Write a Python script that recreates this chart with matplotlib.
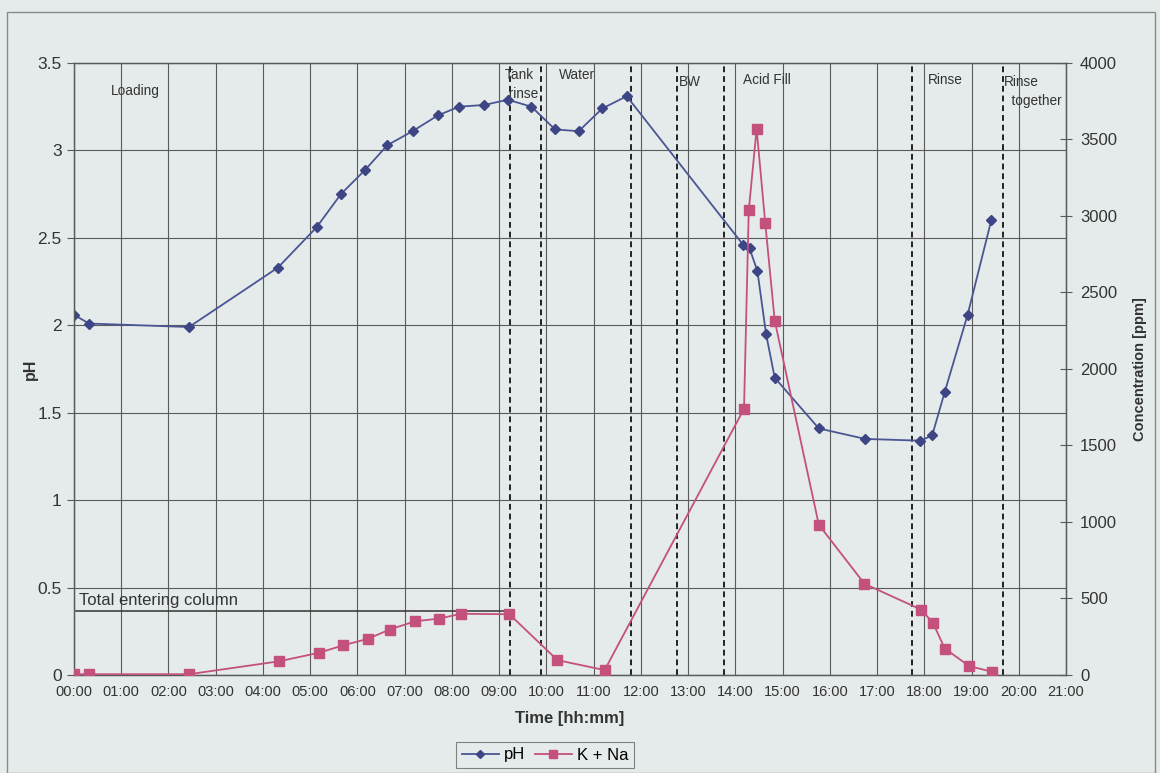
import matplotlib.pyplot as plt
from matplotlib.lines import Line2D
from matplotlib.patches import Rectangle

plt.rcParams['font.family'] = ['Liberation Sans', 'DejaVu Sans']

# sample times [hh:mm] and measured values
ph_time = ["00:00", "00:19", "02:26", "04:19", "05:08", "05:39", "06:10", "06:38",
           "07:10", "07:42", "08:09", "08:41", "09:11", "09:41", "10:11", "10:41",
           "11:11", "11:42", "14:10", "14:18", "14:28", "14:39", "14:50", "15:46",
           "16:45", "17:55", "18:10", "18:26", "18:55", "19:25"]
ph = [2.06, 2.01, 1.99, 2.33, 2.56, 2.75, 2.89, 3.03, 3.11, 3.20, 3.25, 3.26, 3.29,
      3.25, 3.12, 3.11, 3.24, 3.31, 2.46, 2.44, 2.31, 1.95, 1.70, 1.41, 1.35, 1.34,
      1.37, 1.62, 2.06, 2.60]

kna_time = ["00:00", "00:19", "02:26", "04:20", "05:11", "05:42", "06:13", "06:41",
            "07:13", "07:43", "08:12", "09:13", "10:14", "11:14", "14:11", "14:17",
            "14:27", "14:38", "14:50", "15:46", "16:44", "17:56", "18:11", "18:26",
            "18:57", "19:26"]
kna = [5, 5, 5, 89, 145, 194, 236, 297, 351, 368, 400, 397, 97, 32, 1740, 3036,
       3570, 2951, 2316, 982, 596, 427, 340, 173, 58, 21]

# step boundaries and step names
step_bounds = ["09:14", "09:53", "11:47", "12:46", "13:45", "17:44", "19:40"]
step_names = ["Loading", "Tank\n rinse", "Water", "BW", "Acid Fill", "Rinse", "Rinse\n  together"]

total_entering = 415  # ppm
total_from, total_to = "00:03", "09:06"


def hours(t):
    h, m = t.split(":")
    return int(h) + int(m) / 60


bg = "#e5eaea"
blue = "#4a5694"
red = "#c4507e"
grid = "#5a5a5a"
txt = "#333333"

fig = plt.figure(figsize=(11.6, 7.73), dpi=100, facecolor=bg)
fig.patches.append(Rectangle((0.006, 0.0), 0.99, 0.984, transform=fig.transFigure,
                             fill=False, edgecolor="#8a8a8a", lw=1.0))
ax = fig.add_axes([0.0638, 0.1268, 0.8552, 0.7917])
ax.set_facecolor(bg)
ax2 = ax.twinx()

ax.set_xlim(0, 21)
ax.set_ylim(0, 3.5)
ax2.set_ylim(0, 4000)

ax.set_xticks(range(22))
ax.set_xticklabels([f"{h:02d}:00" for h in range(22)], fontsize=10.5, color=txt)
ax.set_yticks([i * 0.5 for i in range(8)])
ax.set_yticklabels(["0", "0.5", "1", "1.5", "2", "2.5", "3", "3.5"], fontsize=12.5,
                   color=txt)
ax2.set_yticks(range(0, 4001, 500))
ax2.set_yticklabels([str(v) for v in range(0, 4001, 500)], fontsize=12, color=txt)

ax.grid(True, color=grid, lw=0.8)
ax.tick_params(axis="x", length=0, pad=7)
ax.tick_params(axis="y", length=5, width=0.8, color=grid, pad=4)
ax2.tick_params(axis="y", length=8, width=0.8, color=grid, direction="inout", pad=6)
for a in (ax, ax2):
    for s in a.spines.values():
        s.set_color(grid)
        s.set_linewidth(0.9)

# step boundaries
for t in step_bounds:
    ax.axvline(hours(t), color="#222222", lw=1.4, ls=(0, (3, 2)))

label_pos = [(0.78, 3.38), (9.12, 3.47), (10.26, 3.47), (12.80, 3.43),
             (14.17, 3.44), (18.08, 3.44), (19.69, 3.43)]
for name, (x, y) in zip(step_names, label_pos):
    ax.text(x, y, name, fontsize=9.8, va="top", ha="left", color=txt, linespacing=1.45)

# total concentration fed to the column
ax2.plot([hours(total_from), hours(total_to)], [total_entering] * 2, color=txt, lw=1.1)
ax2.text(hours(total_from) + 0.05, total_entering + 20, "Total entering column",
         fontsize=12, color=txt, va="bottom")

ax.plot([hours(t) for t in ph_time], ph, color=blue, lw=1.3, marker="D",
        markersize=5, markerfacecolor="#3d4585", markeredgecolor="#3d4585", zorder=5)
ax2.plot([hours(t) for t in kna_time], kna, color=red, lw=1.3, marker="s",
         markersize=6.5, markerfacecolor=red, markeredgecolor=red, zorder=5)

ax.set_xlabel("Time [hh:mm]", fontsize=12, fontweight="bold", color=txt, labelpad=9)
ax.set_ylabel("pH", fontsize=11.5, fontweight="bold", color=txt)
ax.yaxis.set_label_coords(-0.036, 0.5)
ax2.set_ylabel("Concentration [ppm]", fontsize=10.5, fontweight="bold", color=txt)
ax2.yaxis.set_label_coords(1.068, 0.5)

handles = [Line2D([], [], color=blue, lw=1.3, marker="D", markersize=4,
                  markerfacecolor="#3d4585", markeredgecolor="#3d4585"),
           Line2D([], [], color=red, lw=1.3, marker="s", markersize=6,
                  markerfacecolor=red, markeredgecolor=red)]
leg = fig.legend(handles, ["pH", "K + Na"], loc="center", ncol=2,
                 bbox_to_anchor=(545 / 1160, 1 - 755 / 773), fontsize=12,
                 frameon=True, fancybox=False, handlelength=2.2, handletextpad=0.3,
                 columnspacing=0.6, borderpad=0.35)
leg.get_frame().set_edgecolor("#666666")
leg.get_frame().set_facecolor(bg)
leg.get_frame().set_linewidth(0.8)

fig.savefig("out.png", dpi=100, facecolor=bg)
